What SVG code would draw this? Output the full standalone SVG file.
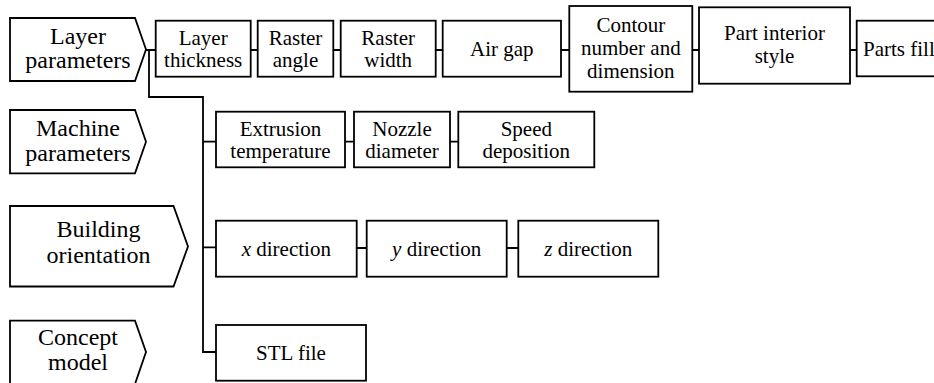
<svg xmlns="http://www.w3.org/2000/svg" width="934" height="383" viewBox="0 0 934 383" style="font-family:'Liberation Serif','Times New Roman',serif">
<style>
.s{fill:#fff;stroke:#000;stroke-width:1.8}
.c{fill:none;stroke:#000;stroke-width:1.8}
</style>
<rect width="934" height="383" fill="#fff"/>
<g id="connectors">
<path class="c" d="M146,50 H156 M149,50 V97 H203 V352 H216 M203,141.7 H216 M203,247.3 H216"/>
<path class="c" d="M250.7,50 H257.7 M333.3,50 H340.7 M435.7,50 H442.7 M561,50 H569.3 M692.3,50 H699 M850,50 H856.7"/>
<path class="c" d="M345,141.7 H354 M450,141.7 H458.3"/>
<path class="c" d="M356.7,248 H366.7 M506.7,248 H518.3"/>
</g>
<g id="layer-parameters">
<path class="s" d="M10,18 H135 L146,49.5 L135,81 H10 Z"/>
<text style="font-family:'Liberation Serif',serif !important" font-size="24" text-anchor="middle" x="78" y="43.5">Layer</text>
<text style="font-family:'Liberation Serif',serif !important" font-size="24" text-anchor="middle" x="78" y="68">parameters</text>
</g>
<g id="machine-parameters">
<path class="s" d="M10,110 H135 L146,141.7 L135,173.3 H10 Z"/>
<text style="font-family:'Liberation Serif',serif !important" font-size="24" text-anchor="middle" x="78" y="136">Machine</text>
<text style="font-family:'Liberation Serif',serif !important" font-size="24" text-anchor="middle" x="78" y="161">parameters</text>
</g>
<g id="building-orientation">
<path class="s" d="M10,206 H173.5 L188,246.5 L173.5,286.5 H10 Z"/>
<text style="font-family:'Liberation Serif',serif !important" font-size="24" text-anchor="middle" x="98.5" y="236.5">Building</text>
<text style="font-family:'Liberation Serif',serif !important" font-size="24" text-anchor="middle" x="98.5" y="263">orientation</text>
</g>
<g id="concept-model">
<path class="s" d="M10,320.7 H135 L146,352 L135,384 H10 Z"/>
<text style="font-family:'Liberation Serif',serif !important" font-size="24" text-anchor="middle" x="78" y="345">Concept</text>
<text style="font-family:'Liberation Serif',serif !important" font-size="24" text-anchor="middle" x="78" y="370">model</text>
</g>
<g id="layer-thickness">
<rect class="s" x="155.7" y="20.7" width="95" height="56"/>
<text style="font-family:'Liberation Serif',serif !important" font-size="21" text-anchor="middle" x="203.2" y="45">Layer</text>
<text style="font-family:'Liberation Serif',serif !important" font-size="21" text-anchor="middle" x="203.2" y="66.7">thickness</text>
</g>
<g id="raster-angle">
<rect class="s" x="257.7" y="20.7" width="75.6" height="56"/>
<text style="font-family:'Liberation Serif',serif !important" font-size="21" text-anchor="middle" x="295.5" y="45">Raster</text>
<text style="font-family:'Liberation Serif',serif !important" font-size="21" text-anchor="middle" x="295.5" y="66.7">angle</text>
</g>
<g id="raster-width">
<rect class="s" x="340.7" y="20.7" width="95" height="56"/>
<text style="font-family:'Liberation Serif',serif !important" font-size="21" text-anchor="middle" x="388.2" y="45">Raster</text>
<text style="font-family:'Liberation Serif',serif !important" font-size="21" text-anchor="middle" x="388.2" y="66.7">width</text>
</g>
<g id="air-gap">
<rect class="s" x="442.7" y="20.7" width="118.3" height="56"/>
<text style="font-family:'Liberation Serif',serif !important" font-size="21" text-anchor="middle" x="501.8" y="56">Air gap</text>
</g>
<g id="contour">
<rect class="s" x="569.3" y="6" width="123" height="85.7"/>
<text style="font-family:'Liberation Serif',serif !important" font-size="21" text-anchor="middle" x="630.8" y="31.5">Contour</text>
<text style="font-family:'Liberation Serif',serif !important" font-size="21" text-anchor="middle" x="630.8" y="54.5">number and</text>
<text style="font-family:'Liberation Serif',serif !important" font-size="21" text-anchor="middle" x="630.8" y="77.5">dimension</text>
</g>
<g id="part-interior-style">
<rect class="s" x="699" y="7.3" width="151" height="76.4"/>
<text style="font-family:'Liberation Serif',serif !important" font-size="21" text-anchor="middle" x="774.5" y="40">Part interior</text>
<text style="font-family:'Liberation Serif',serif !important" font-size="21" text-anchor="middle" x="774.5" y="62.5">style</text>
</g>
<g id="parts-fill">
<rect class="s" x="856.7" y="20.7" width="100" height="55.6"/>
<text style="font-family:'Liberation Serif',serif !important" font-size="21" x="863" y="56">Parts fill</text>
</g>
<g id="extrusion-temperature">
<rect class="s" x="216" y="111.7" width="129" height="55.6"/>
<text style="font-family:'Liberation Serif',serif !important" font-size="21" text-anchor="middle" x="280.5" y="136">Extrusion</text>
<text style="font-family:'Liberation Serif',serif !important" font-size="21" text-anchor="middle" x="280.5" y="158">temperature</text>
</g>
<g id="nozzle-diameter">
<rect class="s" x="354" y="111.7" width="96" height="55.6"/>
<text style="font-family:'Liberation Serif',serif !important" font-size="21" text-anchor="middle" x="402" y="136">Nozzle</text>
<text style="font-family:'Liberation Serif',serif !important" font-size="21" text-anchor="middle" x="402" y="158">diameter</text>
</g>
<g id="speed-deposition">
<rect class="s" x="458.3" y="111.7" width="136" height="55.6"/>
<text style="font-family:'Liberation Serif',serif !important" font-size="21" text-anchor="middle" x="526.3" y="136">Speed</text>
<text style="font-family:'Liberation Serif',serif !important" font-size="21" text-anchor="middle" x="526.3" y="158">deposition</text>
</g>
<g id="x-direction">
<rect class="s" x="216" y="220.7" width="140.7" height="56"/>
<text style="font-family:'Liberation Serif',serif !important" font-size="21" text-anchor="middle" x="286.3" y="255.5"><tspan font-style="italic">x</tspan> direction</text>
</g>
<g id="y-direction">
<rect class="s" x="366.7" y="220.7" width="140" height="56"/>
<text style="font-family:'Liberation Serif',serif !important" font-size="21" text-anchor="middle" x="436.7" y="255.5"><tspan font-style="italic">y</tspan> direction</text>
</g>
<g id="z-direction">
<rect class="s" x="518.3" y="220.7" width="140" height="56"/>
<text style="font-family:'Liberation Serif',serif !important" font-size="21" text-anchor="middle" x="588.3" y="255.5"><tspan font-style="italic">z</tspan> direction</text>
</g>
<g id="stl-file">
<rect class="s" x="216" y="325" width="150" height="55.7"/>
<text style="font-family:'Liberation Serif',serif !important" font-size="21" text-anchor="middle" x="291" y="359.5">STL file</text>
</g>
</svg>
